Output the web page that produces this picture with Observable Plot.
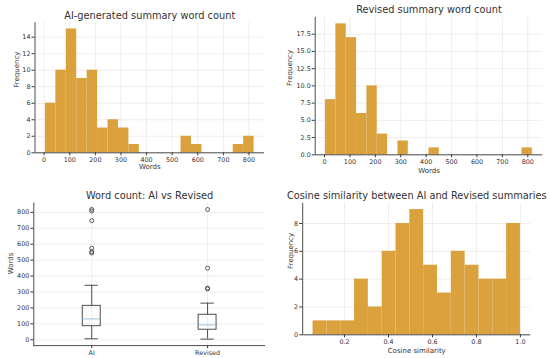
<!DOCTYPE html>
<html>
<head>
<meta charset="utf-8">
<script src="https://cdn.jsdelivr.net/npm/d3@7"></script>
<script src="https://cdn.jsdelivr.net/npm/@observablehq/plot@0.6"></script>
<style>
  html, body { margin: 0; padding: 0; background: #fff; }
  #chart { position: relative; width: 550px; height: 358px; background: #fff; overflow: hidden; }
  #chart svg { position: absolute; overflow: visible; }
</style>
</head>
<body>
<div id="chart"></div>
<script>
// ---------- DATA ----------
// AI-generated summary word count histogram (20 bins)
const aiBinMin = 5, aiBinMax = 820;
const aiCounts = [6, 10, 15, 9, 10, 3, 4, 3, 1, 0, 0, 0, 0, 2, 1, 0, 0, 0, 1, 2];
// Revised summary word count histogram (20 bins)
const revBinMin = 4, revBinMax = 818;
const revCounts = [8, 19, 17, 6, 10, 3, 0, 2, 0, 0, 1, 0, 0, 0, 0, 0, 0, 0, 0, 1];
// Cosine similarity histogram (15 bins)
const cosBinMin = 0.057, cosBinMax = 1.0;
const cosCounts = [1, 1, 1, 4, 2, 6, 8, 9, 5, 3, 6, 5, 4, 4, 8];
// Box plot summary
const boxGroups = ["AI", "Revised"];
const boxWhiskerLow = [6, 4];
const boxQ1 = [85, 63];
const boxMedian = [131, 93];
const boxQ3 = [213, 157];
const boxWhiskerHigh = [342, 230];
const boxOutliers = [
  {group: "AI", value: 818}, {group: "AI", value: 808}, {group: "AI", value: 748},
  {group: "AI", value: 575}, {group: "AI", value: 553}, {group: "AI", value: 545},
  {group: "Revised", value: 818}, {group: "Revised", value: 449},
  {group: "Revised", value: 324}, {group: "Revised", value: 320}
];
// Tick labels
const wordTicks = [0, 100, 200, 300, 400, 500, 600, 700, 800];
const aiFreqTicks = [0, 2, 4, 6, 8, 10, 12, 14];
const revFreqTicks = [0, 2.5, 5, 7.5, 10, 12.5, 15, 17.5];
const cosTicks = [0.2, 0.4, 0.6, 0.8, 1.0];
const cosFreqTicks = [0, 2, 4, 6, 8];
const titles = ["AI-generated summary word count", "Revised summary word count",
                "Word count: AI vs Revised", "Cosine similarity between AI and Revised summaries"];

// ---------- STYLE ----------
const barColor = "#daa13c";
const gridColor = "#e6e6e6";
const spineColor = "#3a3a3a";
const textColor = "#333";
const baseStyle = {fontFamily: "DejaVu Sans, sans-serif", fontSize: "6.4px", color: textColor, background: "transparent", overflow: "visible"};

function bins(min, max, counts) {
  const w = (max - min) / counts.length;
  return counts.map((c, i) => ({x1: min + i * w, x2: min + (i + 1) * w, count: c}));
}
function pad(min, max) { const m = (max - min) * 0.05; return [min - m, max + m]; }

const chart = document.getElementById("chart");
function place(svg, left, top) { svg.style.left = left + "px"; svg.style.top = top + "px"; chart.append(svg); }

function labels(title, xlab, ylab, o) {
  return [
    Plot.text([title], {frameAnchor: "top", dy: -o.title, lineAnchor: "middle", fontSize: 9.8, fill: textColor}),
    Plot.text([xlab], {frameAnchor: "bottom", dy: o.x, lineAnchor: "middle", fontSize: 7, fill: textColor}),
    Plot.text([ylab], {frameAnchor: "left", dx: -o.y, rotate: -90, lineAnchor: "middle", fontSize: 7, fill: textColor})
  ];
}

function histogram({data, xDomain, yDomain, xTicks, yTicks, xFmt, yFmt, w, h, m, title, xlab, ylab, lo}) {
  return Plot.plot({
    width: w, height: h,
    marginLeft: m[0], marginRight: m[1], marginTop: m[2], marginBottom: m[3],
    style: baseStyle,
    x: {domain: xDomain},
    y: {domain: yDomain},
    marks: [
      Plot.gridX(xTicks, {stroke: gridColor, strokeOpacity: 1, strokeWidth: 0.7}),
      Plot.gridY(yTicks, {stroke: gridColor, strokeOpacity: 1, strokeWidth: 0.7}),
      Plot.rectY(data, {x1: "x1", x2: "x2", y: "count", fill: barColor}),
      Plot.ruleY([yDomain[0]], {stroke: spineColor, strokeWidth: 0.9}),
      Plot.ruleX([xDomain[0]], {stroke: spineColor, strokeWidth: 0.9}),
      Plot.axisX({ticks: xTicks, tickFormat: xFmt, tickSize: 3, tickPadding: 1.5, label: null, stroke: spineColor}),
      Plot.axisY({ticks: yTicks, tickFormat: yFmt, tickSize: 3, tickPadding: 1.5, label: null, stroke: spineColor}),
      ...labels(title, xlab, ylab, lo)
    ]
  });
}

// Panel 1
place(histogram({
  data: bins(aiBinMin, aiBinMax, aiCounts),
  xDomain: pad(aiBinMin, aiBinMax), yDomain: [0, 15 * 1.05],
  xTicks: wordTicks, yTicks: aiFreqTicks, xFmt: d3.format("d"), yFmt: d3.format("d"),
  w: 275, h: 180, m: [34.5, 11, 22.2, 27.7],
  title: titles[0], xlab: "Words", ylab: "Frequency", lo: {title: 7.2, x: 13.7, y: 17.8}
}), 0, 0);

// Panel 2
place(histogram({
  data: bins(revBinMin, revBinMax, revCounts),
  xDomain: pad(revBinMin, revBinMax), yDomain: [0, 19 * 1.05],
  xTicks: wordTicks, yTicks: revFreqTicks, xFmt: d3.format("d"), yFmt: d3.format(".1f"),
  w: 275, h: 180, m: [39.7, 7.8, 16.8, 25.7],
  title: titles[1], xlab: "Words", ylab: "Frequency", lo: {title: 7.8, x: 15.7, y: 25.4}
}), 275, 0);

// Panel 3: box plot
const boxRows = boxGroups.map((g, i) => ({group: g, lo: boxWhiskerLow[i], q1: boxQ1[i], med: boxMedian[i], q3: boxQ3[i], hi: boxWhiskerHigh[i]}));
const boxYDomain = pad(4, 818);
place(Plot.plot({
  width: 275, height: 178,
  marginLeft: 33.3, marginRight: 10, marginTop: 22.5, marginBottom: 12.9,
  style: baseStyle,
  x: {type: "band", domain: boxGroups, paddingInner: 0.845, paddingOuter: 0.4225, round: false},
  y: {domain: boxYDomain},
  marks: [
    Plot.ruleX(boxGroups, {x: d => d, stroke: gridColor, strokeWidth: 0.7}),
    Plot.gridY(wordTicks, {stroke: gridColor, strokeOpacity: 1, strokeWidth: 0.7}),
    Plot.ruleX(boxRows, {x: "group", y1: "lo", y2: "q1", stroke: spineColor, strokeWidth: 0.9}),
    Plot.ruleX(boxRows, {x: "group", y1: "q3", y2: "hi", stroke: spineColor, strokeWidth: 0.9}),
    Plot.tickY(boxRows, {x: "group", y: "lo", stroke: spineColor, strokeWidth: 0.9, insetLeft: 2.3, insetRight: 2.3}),
    Plot.tickY(boxRows, {x: "group", y: "hi", stroke: spineColor, strokeWidth: 0.9, insetLeft: 2.3, insetRight: 2.3}),
    Plot.barY(boxRows, {x: "group", y1: "q1", y2: "q3", fill: "none", stroke: spineColor, strokeWidth: 0.9}),
    Plot.tickY(boxRows, {x: "group", y: "med", stroke: "#8fbbdc", strokeWidth: 0.9}),
    Plot.dot(boxOutliers, {x: "group", y: "value", r: 2, stroke: spineColor, strokeWidth: 0.8, fill: "none"}),
    Plot.ruleY([boxYDomain[0]], {stroke: spineColor, strokeWidth: 0.9}),
    Plot.frame({anchor: "left", stroke: spineColor, strokeWidth: 0.9}),
    Plot.axisX({tickSize: 3, tickPadding: 1.5, label: null, stroke: spineColor}),
    Plot.axisY({ticks: wordTicks, tickFormat: d3.format("d"), tickSize: 3, tickPadding: 1.5, label: null, stroke: spineColor}),
    Plot.text([titles[2]], {frameAnchor: "top", dy: -7.5, lineAnchor: "middle", fontSize: 9.8, fill: textColor}),
    Plot.text(["Words"], {frameAnchor: "left", dx: -23.3, rotate: -90, lineAnchor: "middle", fontSize: 7, fill: textColor})
  ]
}), 0, 180);

// Panel 4
place(histogram({
  data: bins(cosBinMin, cosBinMax, cosCounts),
  xDomain: pad(cosBinMin, cosBinMax), yDomain: [0, 9 * 1.05],
  xTicks: cosTicks, yTicks: cosFreqTicks, xFmt: d3.format(".1f"), yFmt: d3.format("d"),
  w: 275, h: 178, m: [27.2, 19.7, 22.8, 23.7],
  title: titles[3], xlab: "Cosine similarity", ylab: "Frequency", lo: {title: 7.8, x: 15.7, y: 12.2}
}), 275, 180);
</script>
</body>
</html>
